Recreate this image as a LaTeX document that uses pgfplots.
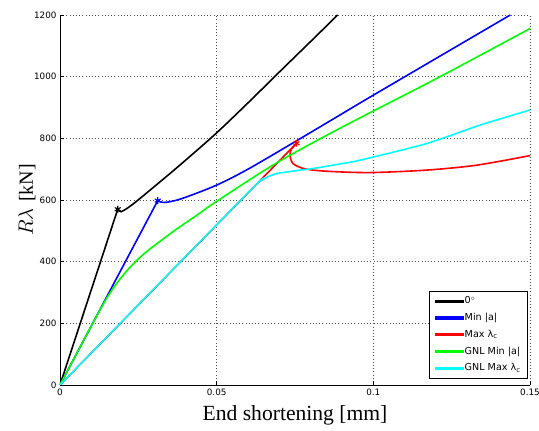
\documentclass[border=0pt]{standalone}
\usepackage{fontspec}
\setmainfont{DejaVu Sans}
\newfontfamily\lserif{Liberation Serif}
\usepackage{pgfplots}
\pgfplotsset{compat=1.18}
\definecolor{mblue}{rgb}{0,0,1}
\definecolor{mred}{rgb}{1,0,0}
\definecolor{mgreen}{rgb}{0,1,0}
\definecolor{mcyan}{rgb}{0,1,1}
\begin{document}
\begin{tikzpicture}
\path[use as bounding box] (-60pt,-46pt) rectangle (479pt,385pt);
\begin{axis}[
  at={(0pt,0pt)}, anchor=south west,
  scale only axis, width=470pt, height=370pt,
  xmin=0, xmax=0.15, ymin=0, ymax=1200,
  clip=true,
  axis x line*=bottom, axis y line*=left,
  axis line style={line width=0.9pt, black},
  xtick={0,0.05,0.1,0.15}, xticklabels={0,0.05,0.1,0.15},
  ytick={0,200,400,600,800,1000,1200}, yticklabels={0,200,400,600,800,1000,1200},
  tick align=inside, major tick length=4pt,
  tick style={black, line width=0.6pt},
  ticklabel style={font=\fontsize{8.8}{10}\selectfont},
  grid=major,
  major grid style={black!70, line width=0.6pt, dash pattern=on 0.8pt off 2.4pt},
  xlabel={\lserif End shortening [mm]},
  xlabel style={at={(axis description cs:0.5,-0.0946)}, anchor=base, font=\fontsize{21.6}{24}\selectfont},
  ylabel={$R\lambda$ {\lserif [kN]}},
  ylabel style={at={(axis description cs:-0.0575,0.5)}, anchor=base, font=\fontsize{20}{24}\selectfont},
  legend style={at={(0.9957,0.0162)}, anchor=south east, draw=black, line width=0.9pt, fill=white,
    font=\fontsize{9.6}{11}\selectfont, row sep=4.75pt, inner xsep=6pt, inner ysep=4.3pt,
    nodes={inner sep=1pt, text height=7.5pt, text depth=2.5pt}},
  legend cell align=left,
  every axis plot/.append style={line width=1.6pt},
]
\addlegendimage{legend image code/.code={\fill[black] (0pt,-0.9pt) rectangle (27pt,0.9pt);}}
\addlegendentry{0$^\circ$}
\addlegendimage{legend image code/.code={\fill[mblue] (0pt,-0.9pt) rectangle (27pt,0.9pt);}}
\addlegendentry{Min |a|}
\addlegendimage{legend image code/.code={\fill[mred] (0pt,-0.9pt) rectangle (27pt,0.9pt);}}
\addlegendentry{Max λ\textsubscript{c}}
\addlegendimage{legend image code/.code={\fill[mgreen] (0pt,-0.9pt) rectangle (27pt,0.9pt);}}
\addlegendentry{GNL Min |a|}
\addlegendimage{legend image code/.code={\fill[mcyan] (0pt,-0.9pt) rectangle (27pt,0.9pt);}}
\addlegendentry{GNL Max λ\textsubscript{c}}
% black
\addplot[black, forget plot] coordinates {(0,0) (0.01843,570)};
\addplot[black, smooth, tension=0.5, forget plot] coordinates {(0.01843,570) (0.0195,562) (0.0232,586) (0.0317,657) (0.0387,717) (0.0497,815) (0.060,915) (0.0707,1022) (0.0814,1128) (0.0886,1200)};
% blue
\addplot[mblue, forget plot] coordinates {(0,0) (0.0312,598)};
\addplot[mblue, smooth, tension=0.5, forget plot] coordinates {(0.0312,598) (0.0334,592) (0.0387,604) (0.0497,647) (0.060,700) (0.0755,792) (0.0894,876) (0.1,940) (0.1437,1200)};
% red
\addplot[mred, forget plot] coordinates {(0,0) (0.0755,784)};
\addplot[mred, smooth, tension=0.5, forget plot] coordinates {(0.0755,784) (0.0739,766) (0.0734,745) (0.0744,718) (0.0782,701) (0.0856,693) (0.099,689) (0.117,697) (0.133,713) (0.15,744)};
% green
\addplot[mgreen, smooth, tension=0.5, forget plot] coordinates {(0,0) (0.0105,201) (0.0158,296) (0.0211,368) (0.0264,422) (0.0318,465) (0.0371,505) (0.044,553) (0.0499,595) (0.0686,717) (0.0894,833) (0.12,993) (0.15,1156)};
% cyan
\addplot[mcyan, smooth, tension=0.4, forget plot] coordinates {(0,0) (0.03,312) (0.0620,644) (0.0643,663) (0.0667,677) (0.0692,686) (0.0725,691) (0.076,696) (0.0808,702) (0.0894,717) (0.0957,729) (0.117,783) (0.1341,843) (0.15,892)};
% stars
\addplot[black, only marks, mark=asterisk, mark size=3.4pt, line width=1.1pt, forget plot] coordinates {(0.01843,570)};
\addplot[mblue, only marks, mark=asterisk, mark size=3.4pt, line width=1.1pt, forget plot] coordinates {(0.0312,598)};
\addplot[mred, only marks, mark=asterisk, mark size=3.4pt, line width=1.1pt, forget plot] coordinates {(0.0755,784)};
\end{axis}
\end{tikzpicture}
\end{document}
